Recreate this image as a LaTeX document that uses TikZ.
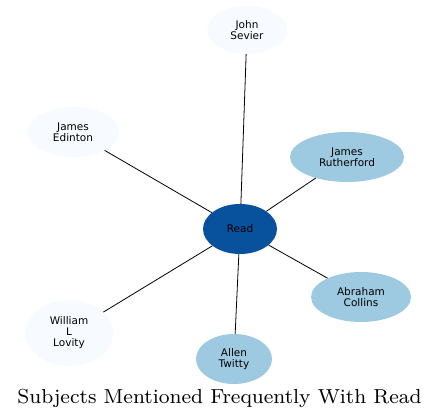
\documentclass[tikz,border=0pt]{standalone}
\usepackage{fontspec}
\setsansfont{DejaVu Sans}
\newfontfamily\titlefont{lmroman8-regular.otf}
\usetikzlibrary{shapes.geometric}
\definecolor{hub}{HTML}{08519C}
\definecolor{mid}{HTML}{9ECAE1}
\definecolor{pale}{HTML}{F7FBFF}
\begin{document}
\begin{tikzpicture}[x=1pt,y=-1pt,
  ent/.style={ellipse,inner sep=0pt,align=center,font=\sffamily\fontsize{10.5}{11}\selectfont},
  link/.style={draw=black,line width=0.8pt}]
\useasboundingbox (0,0) rectangle (439,420);
\node[ent,fill=hub,minimum width=74pt,minimum height=50pt] (read) at (240,229) {Read};
\node[ent,fill=pale,minimum width=80pt,minimum height=48pt] (sevier) at (247,30) {John\\Sevier};
\node[ent,fill=pale,minimum width=92pt,minimum height=50pt] (edinton) at (73,132) {James\\Edinton};
\node[ent,fill=mid,minimum width=114pt,minimum height=50pt] (ruth) at (347,157) {James\\Rutherford};
\node[ent,fill=mid,minimum width=100pt,minimum height=50pt] (collins) at (361,297) {Abraham\\Collins};
\node[ent,fill=pale,minimum width=88pt,minimum height=66pt] (lovity) at (69,333) {William\\L\\Lovity};
\node[ent,fill=mid,minimum width=76pt,minimum height=50pt] (twitty) at (234,359) {Allen\\Twitty};
\node[font=\titlefont\fontsize{20.3}{23}\selectfont,inner sep=0pt] (title) at (219.5,398) {Subjects Mentioned Frequently With Read};
\foreach \t in {sevier,edinton,ruth,collins,lovity,twitty}
  \draw[link] (read) -- (\t);
\end{tikzpicture}
\end{document}
